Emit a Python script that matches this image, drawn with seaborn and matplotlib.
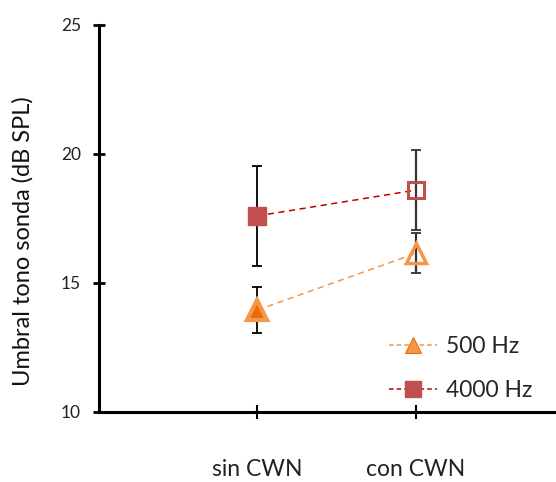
import matplotlib
matplotlib.use("Agg")
import matplotlib.pyplot as plt
import seaborn as sns
import pandas as pd
from matplotlib.lines import Line2D

categories = ["sin CWN", "con CWN"]
hz500 = [13.95, 16.15]
hz500_err = [0.9, 0.77]
hz4000 = [17.6, 18.6]
hz4000_err = [1.95, 1.55]
yticks = [10, 15, 20, 25]

sns.set_theme(style="white")
plt.rcParams['font.family'] = ['Lato', 'DejaVu Sans']

fig = plt.figure(figsize=(5.56, 4.82), dpi=100)
ax = fig.add_axes([99/556, (482-412)/482, (555-99)/556, (412-25)/482])

xpos = [1, 2]
df = pd.DataFrame({
    "x": xpos * 2,
    "y": hz500 + hz4000,
    "serie": ["500 Hz"] * 2 + ["4000 Hz"] * 2,
})

orange = "#F79646"
orange_dark = "#E46C0A"
red = "#C0504D"
red_line = "#C00000"

# error bars
ax.errorbar([xpos[0]], [hz4000[0]], yerr=[hz4000_err[0]], fmt="none", ecolor="black", elinewidth=1.3, capsize=3.5, capthick=1.3, zorder=2)
ax.errorbar([xpos[0]], [hz500[0]], yerr=[hz500_err[0]], fmt="none", ecolor="black", elinewidth=1.3, capsize=3.5, capthick=1.3, zorder=2)
ax.errorbar([xpos[1]], [hz4000[1]], yerr=[hz4000_err[1]], fmt="none", ecolor="#333333", elinewidth=1.6, capsize=3.5, capthick=1.3, zorder=2)
ax.errorbar([xpos[1]], [hz500[1]], yerr=[hz500_err[1]], fmt="none", ecolor="#333333", elinewidth=1.6, capsize=3.5, capthick=1.3, zorder=2)

sns.lineplot(data=df, x="x", y="y", hue="serie", palette={"500 Hz": orange, "4000 Hz": red_line},
             ax=ax, legend=False, linewidth=1.1, zorder=3)
for l in ax.get_lines()[-2:]:
    l.set_linestyle((0, (4, 3)))

# markers
ax.plot([xpos[0]], [hz500[0]], marker="^", markersize=14, markerfacecolor=orange_dark,
        markeredgecolor=orange, markeredgewidth=3, linestyle="none", zorder=4)
ax.plot([xpos[1]], [hz500[1]], marker="^", markersize=14, markerfacecolor="none",
        markeredgecolor=orange, markeredgewidth=2.5, linestyle="none", zorder=4)
ax.plot([xpos[0]], [hz4000[0]], marker="s", markersize=13, markerfacecolor=red,
        markeredgecolor=red, markeredgewidth=1, linestyle="none", zorder=4)
ax.plot([xpos[1]], [hz4000[1]], marker="s", markersize=12, markerfacecolor="none",
        markeredgecolor=red, markeredgewidth=2.2, linestyle="none", zorder=4)

ax.set_xlim(0, 455/158)
ax.set_ylim(10, 25)
ax.set_yticks(yticks)
ax.set_yticklabels([str(t) for t in yticks], fontsize=12.5)
ax.set_xticks(xpos)
ax.set_xticklabels(categories, fontsize=16.5)
ax.tick_params(axis="y", left=True, direction="inout", length=8, width=2, pad=9, colors="black")
ax.tick_params(axis="x", bottom=True, direction="inout", length=10, width=1.5, pad=29, colors="black")
for lab in ax.get_yticklabels() + ax.get_xticklabels():
    lab.set_color("#222222")

for s in ["top", "right"]:
    ax.spines[s].set_visible(False)
for s in ["left", "bottom"]:
    ax.spines[s].set_color("black")
    ax.spines[s].set_linewidth(2.2)

ax.set_xlabel("")
ax.set_ylabel("Umbral tono sonda (dB SPL)", fontsize=17, color="#111111")
ax.yaxis.set_label_coords((34 - 99) / 456, (412 - 241) / 387)

handles = [
    Line2D([0], [0], color=orange, linestyle=(0, (3, 2)), linewidth=1.1, marker="^", markersize=12,
           markerfacecolor=orange, markeredgecolor=orange_dark, markeredgewidth=0.8),
    Line2D([0], [0], color=red_line, linestyle=(0, (3, 2)), linewidth=1.1, marker="s", markersize=12,
           markerfacecolor=red, markeredgecolor=red),
]
leg = ax.legend(handles, ["500 Hz", "4000 Hz"], frameon=False, fontsize=16.5, loc="upper left",
                handlelength=2.1, handletextpad=0.4, labelspacing=1.0, borderaxespad=0)
leg.set_bbox_to_anchor((380/556, (482-327)/482), transform=fig.transFigure)

fig.savefig("out.png", dpi=100)
